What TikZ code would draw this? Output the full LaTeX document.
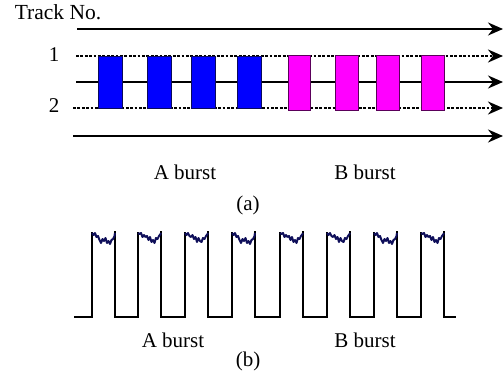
\documentclass[tikz,border=0pt]{standalone}
\usepackage{fontspec}
\setmainfont{Liberation Serif}
\usetikzlibrary{arrows.meta}
\definecolor{barblue}{RGB}{0,0,255}
\definecolor{barblueedge}{RGB}{10,10,90}
\definecolor{barmag}{RGB}{255,0,255}
\definecolor{barmagedge}{RGB}{90,0,90}
\definecolor{noisenavy}{RGB}{15,15,90}
\tikzset{
  track/.style={line width=2.2pt,-{Stealth[length=15pt,width=13pt,inset=5pt]}},
  dottrack/.style={track,line width=2.6pt,dash pattern=on 2.8pt off 1.6pt},
  bar/.style={draw,line width=1pt,minimum width=24pt,inner sep=0pt,outer sep=0pt},
  bluebar/.style={bar,fill=barblue,draw=barblueedge,minimum height=52pt},
  magbar/.style={bar,fill=barmag,draw=barmagedge,minimum height=55pt},
  lbl/.style={font=\fontsize{21}{24}\selectfont,inner sep=0pt},
  wave/.style={line width=1.3pt,black},
  noise/.style={line width=2pt,noisenavy,line join=round}
}
\begin{document}
\begin{tikzpicture}[x=1pt,y=-1pt]
\useasboundingbox (0,0) rectangle (504,389);

% ---------- (a) tracks ----------
\node[lbl,font=\fontsize{21.5}{24}\selectfont] (trackno) at (58,12) {Track No.};
\node[lbl] (n1) at (54,55) {1};
\node[lbl] (n2) at (54,106) {2};

\coordinate (l0s) at (77,29);  \coordinate (l0e) at (503,29);
\coordinate (l1s) at (76,56);  \coordinate (l1e) at (503,56);
\coordinate (l2s) at (76,82);  \coordinate (l2e) at (503,82);
\coordinate (l3s) at (73,108); \coordinate (l3e) at (503,108);
\coordinate (l4s) at (73,136); \coordinate (l4e) at (503,136);

\draw[track] (l0s) -- (l0e);
\draw[dottrack] (l1s) -- (l1e);
\draw[track] (l2s) -- (l2e);
\draw[dottrack] (l3s) -- (l3e);
\draw[track] (l4s) -- (l4e);

% burst A (blue) and burst B (magenta)
\node[bluebar] (a1) at (110,82) {};
\node[bluebar] (a2) at (159.5,82) {};
\node[bluebar] (a3) at (203,82) {};
\node[bluebar] (a4) at (249.5,82) {};
\node[magbar,minimum width=22pt] (b1) at (299,82.5) {};
\node[magbar,minimum width=23pt] (b2) at (346.5,82.5) {};
\node[magbar,minimum width=23pt] (b3) at (387.5,82.5) {};
\node[magbar,minimum width=23pt] (b4) at (432.5,82.5) {};

\node[lbl] (aburst) at (185,172) {A burst};
\node[lbl] (bburst) at (365,172) {B burst};
\node[lbl] (capa) at (248,205) {(a)};

% ---------- (b) read-back signal ----------
\coordinate (ws) at (74,317);
\coordinate (we) at (456,317);
\draw[wave] (ws)
  foreach \r in {92,138,185,232,280,327,374} {
    -- (\r,317) -- (\r,232) (\r+23,231) -- (\r+23,317)
  }
  -- (421,317) -- (421,232) (444,231) -- (444,317) -- (we);

% noisy pulse tops, three shapes of jitter
\foreach \r in {92,232,374} {
  \draw[noise] (\r,233) -- ++(1.5,2) -- ++(1.5,-2) -- ++(1.5,4) -- ++(1.5,-1)
    -- ++(1.5,4) -- ++(1.5,3) -- ++(1.5,-4) -- ++(1.5,2) -- ++(1.5,-3)
    -- ++(1.5,5) -- ++(1.5,-2) -- ++(1.5,3) -- ++(1.5,-4) -- ++(1.5,-1)
    -- ++(1.5,-3) -- ++(0.5,-3);
}
\foreach \r in {138,280,421} {
  \draw[noise] (\r,233) -- ++(1.5,1) -- ++(1.5,-1) -- ++(1.5,4) -- ++(1.5,-2)
    -- ++(1.5,2) -- ++(1.5,-1) -- ++(1.5,4) -- ++(1.5,-3) -- ++(1.5,5)
    -- ++(1.5,-2) -- ++(1.5,3) -- ++(1.5,-5) -- ++(1.5,1) -- ++(1.5,-3)
    -- ++(1.5,-2) -- ++(0.5,-1);
}
\foreach \r in {185,327} {
  \draw[noise] (\r,233) -- ++(1.5,2) -- ++(1.5,-2) -- ++(1.5,3) -- ++(1.5,1)
    -- ++(1.5,-2) -- ++(1.5,4) -- ++(1.5,-2) -- ++(1.5,5) -- ++(1.5,-4)
    -- ++(1.5,3) -- ++(1.5,1) -- ++(1.5,-4) -- ++(1.5,1) -- ++(1.5,-3)
    -- ++(1.5,-2) -- ++(0.5,-1);
}

\node[lbl] (aburstb) at (173,340) {A burst};
\node[lbl] (bburstb) at (365,340) {B burst};
\node[lbl] (capb) at (248,361) {(b)};
\end{tikzpicture}
\end{document}
